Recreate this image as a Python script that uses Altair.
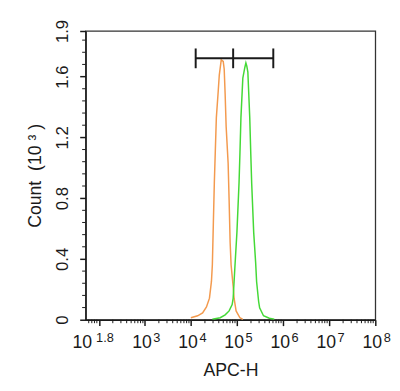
import altair as alt
import pandas as pd

# ---- data ----
orange_apc = [9.9e3, 1.39e4, 1.78e4, 2.16e4, 2.51e4, 2.77e4, 2.9e4, 3.05e4, 3.2e4, 3.54e4,
              3.9e4, 4.1e4, 4.52e4, 4.99e4, 5.24e4, 5.5e4, 5.78e4, 6.38e4, 6.7e4, 7.05e4,
              7.4e4, 8.2e4, 8.6e4, 9.5e4, 1.15e5, 1.33e5]
orange_count = [0.013, 0.026, 0.045, 0.084, 0.142, 0.252, 0.362, 0.64, 0.90, 1.33,
                1.51, 1.61, 1.71, 1.70, 1.65, 1.48, 1.27, 1.03, 0.79, 0.51,
                0.36, 0.22, 0.14, 0.058, 0.013, 0.003]

green_apc = [2.9e4, 4.3e4, 5.5e4, 6.7e4, 7.8e4, 8.2e4, 9.0e4, 9.9e4, 1.1e5, 1.15e5,
             1.21e5, 1.33e5, 1.47e5, 1.55e5, 1.62e5, 1.71e5, 1.88e5, 1.98e5, 2.07e5, 2.29e5,
             2.52e5, 2.65e5, 2.93e5, 3.08e5, 3.74e5, 5.0e5, 6.4e5]
green_count = [0.003, 0.013, 0.032, 0.058, 0.10, 0.14, 0.36, 0.575, 0.90, 1.09,
               1.33, 1.59, 1.66, 1.69, 1.67, 1.63, 1.33, 1.09, 0.90, 0.575,
               0.38, 0.25, 0.12, 0.078, 0.026, 0.01, 0.003]

gate_apc = [1.26e4, 8.2e4, 6.1e5]
gate_level = 1.72
gate_tick_low = 1.655
gate_tick_high = 1.785

x_major = [1e2, 1e3, 1e4, 1e5, 1e6, 1e7, 1e8]
x_label_vals = [63.1, 1e3, 1e4, 1e5, 1e6, 1e7, 1e8]
x_label_exp = ["1.8", "3", "4", "5", "6", "7", "8"]
y_major = [0, 0.4, 0.8, 1.2, 1.6, 1.9]
y_minor = [0.08, 0.16, 0.24, 0.32, 0.48, 0.56, 0.64, 0.72, 0.88, 0.96, 1.04, 1.12,
           1.28, 1.36, 1.44, 1.52, 1.68, 1.76, 1.84]
x_minor = [60, 70, 80, 90] + [k * 10 ** n for n in range(2, 8) for k in range(2, 10)]

ORANGE = "#F39A4E"
GREEN = "#44D936"
INK = "#1a1a1a"
FONT = "Liberation Sans"
XT = "APC-H"
YT = "Count\u00a0\u00a0(10\u00a0³\u00a0)"

lines = pd.DataFrame({
    "apc": orange_apc + green_apc,
    "count": orange_count + green_count,
    "series": ["control"] * len(orange_apc) + ["sample"] * len(green_apc),
})

xscale = alt.Scale(type="log", domain=[51.3, 1e8], nice=False)
yscale = alt.Scale(domain=[0, 1.9], nice=False, zero=True)

x_axis = alt.Axis(values=x_major, labels=False, tickSize=6, grid=False, title=XT, titlePadding=36)
y_axis = alt.Axis(values=y_major, format="~g", tickSize=6, grid=False,
                  labelAngle=-90, labelAlign="center", labelBaseline="bottom",
                  labelPadding=8, labelOverlap=False, title=YT, titlePadding=10)

base_lines = alt.Chart(lines).mark_line(strokeWidth=1.5).encode(
    x=alt.X("apc:Q", scale=xscale, axis=x_axis, title=XT),
    y=alt.Y("count:Q", scale=yscale, axis=y_axis, title=YT),
    color=alt.Color("series:N", scale=alt.Scale(domain=["control", "sample"], range=[ORANGE, GREEN]),
                    legend=None),
)

gate_h = alt.Chart(pd.DataFrame({"a": [gate_apc[0]], "b": [gate_apc[2]], "y": [gate_level]})).mark_rule(
    strokeWidth=2, color=INK).encode(
    x=alt.X("a:Q", title=XT), x2="b:Q", y=alt.Y("y:Q", title=YT))

gate_v = alt.Chart(pd.DataFrame({"a": gate_apc, "lo": [gate_tick_low] * 3, "hi": [gate_tick_high] * 3})).mark_rule(
    strokeWidth=2, color=INK).encode(
    x=alt.X("a:Q", title=XT), y=alt.Y("lo:Q", title=YT), y2="hi:Q")

xminor = alt.Chart(pd.DataFrame({"v": x_minor})).mark_rule(strokeWidth=1, color=INK).encode(
    x=alt.X("v:Q", title=XT), y=alt.value(294), y2=alt.value(297.5))

yminor = alt.Chart(pd.DataFrame({"v": y_minor})).mark_rule(strokeWidth=1, color=INK).encode(
    y=alt.Y("v:Q", title=YT), x=alt.value(0), x2=alt.value(-3.5))

labels = pd.DataFrame({"v": x_label_vals, "ten": ["10"] * len(x_label_vals), "exp": x_label_exp})
int_labels = alt.Chart(labels).transform_filter("datum.exp != '1.8'")
frac_labels = alt.Chart(labels).transform_filter("datum.exp == '1.8'")

def label_layers(src, dx_ten, dx_exp):
    ten = src.mark_text(align="right", baseline="alphabetic", fontSize=18, font=FONT,
                        color=INK, dx=dx_ten).encode(
        x=alt.X("v:Q", title=XT), y=alt.value(323), text="ten:N")
    ex = src.mark_text(align="left", baseline="alphabetic", fontSize=13, font=FONT,
                       color=INK, dx=dx_exp).encode(
        x=alt.X("v:Q", title=XT), y=alt.value(317), text="exp:N")
    return [ten, ex]

chart = alt.layer(
    base_lines, gate_h, gate_v, xminor, yminor,
    *label_layers(int_labels, 7, 8.5),
    *label_layers(frac_labels, 2.5, 6.5),
).properties(
    width=295, height=294,
    autosize=alt.AutoSizeParams(type="none"),
    padding={"left": 79, "top": 20, "right": 17, "bottom": 61},
).configure(font=FONT).configure_view(
    stroke="#333", strokeWidth=1.3
).configure_axis(
    domainColor=INK, domainWidth=1.5, tickColor=INK, tickWidth=1.5,
    labelFont=FONT, titleFont=FONT, labelColor=INK, titleColor=INK,
    labelFontSize=17, titleFontSize=18, titleFontWeight="normal",
)

chart.save("out.html", embed_options={"renderer": "svg", "actions": False})
